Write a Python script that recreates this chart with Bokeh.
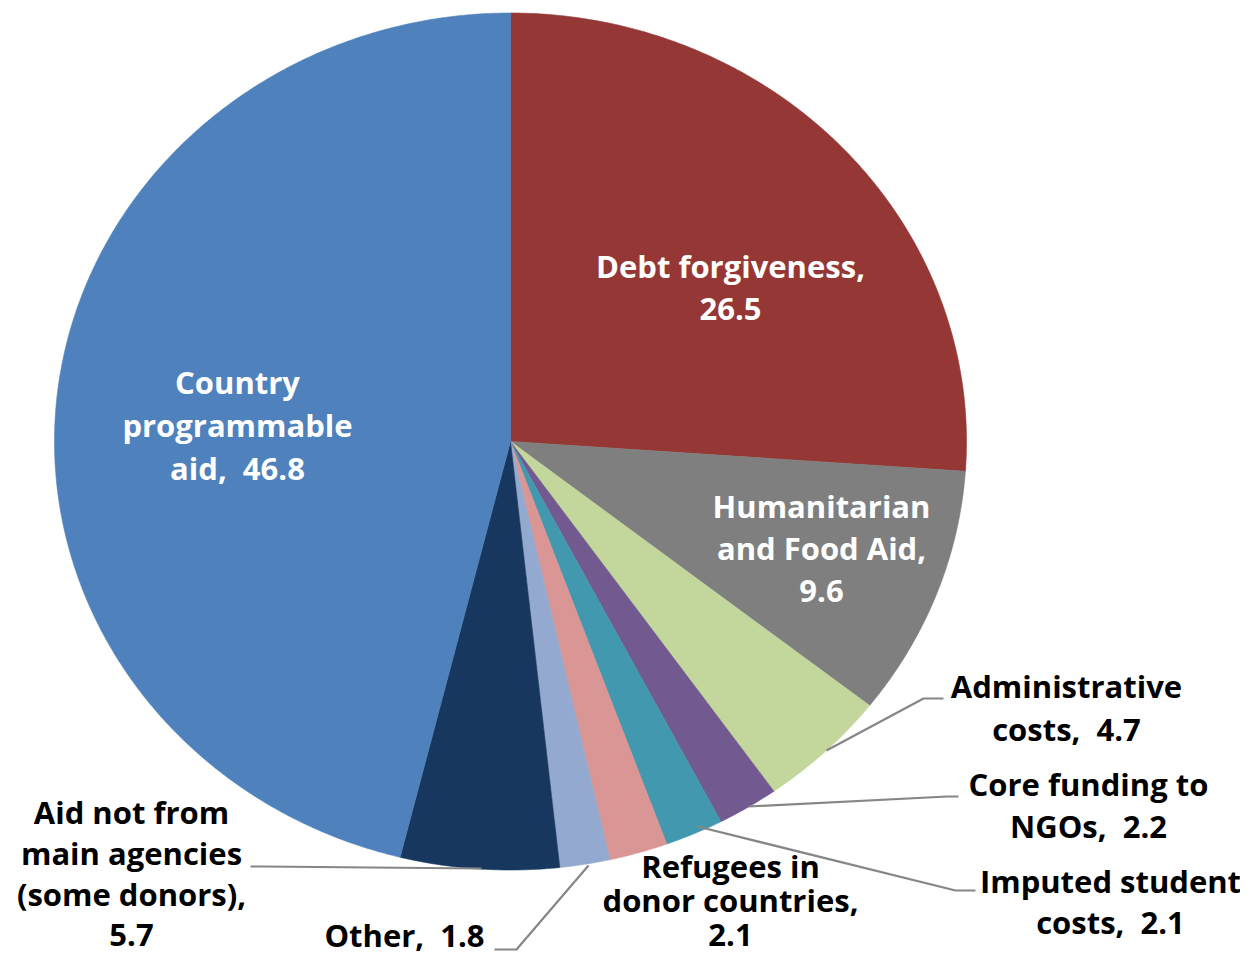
import numpy as np
from bokeh.plotting import figure
from bokeh.models import Range1d, ColumnDataSource
from bokeh.embed import file_html
from bokeh.resources import INLINE
from bokeh.core.properties import value

# ---- data ----
categories = ["Debt forgiveness", "Humanitarian and Food Aid", "Administrative costs",
              "Core funding to NGOs", "Imputed student costs", "Refugees in donor countries",
              "Other", "Aid not from main agencies (some donors)", "Country programmable aid"]
values = [26.5, 9.6, 4.7, 2.2, 2.1, 2.1, 1.8, 5.7, 46.8]
colors = ["#953735", "#7F7F7F", "#C3D69B", "#72598F", "#4298AF", "#D99694",
          "#94A9CF", "#18375E", "#4F81BD"]
NB = "\u00a0"
label_lines = [
    ["Debt forgiveness,", "26.5"],
    ["Humanitarian", "and Food Aid,", "9.6"],
    ["Administrative", "costs," + NB + " 4.7"],
    ["Core funding to", "NGOs," + NB + " 2.2"],
    ["Imputed student", "costs," + NB + " 2.1"],
    ["Refugees in", "donor countries,", "2.1"],
    ["Other," + NB + " 1.8"],
    ["Aid not from", "main agencies", "(some donors),", "5.7"],
    ["Country", "programmable", "aid," + NB + " 46.8"],
]
label_colors = ["white", "white", "black", "black", "black", "black", "black", "black", "white"]

# ---- layout (pixel coordinates) ----
W, H = 1240, 956
cx, cy, rx, ry = 510, 441, 456, 428.5
# (centre x, baseline of first line)
label_pos = [(730, 277), (821, 517), (1066, 697), (1088, 795), (1110, 892),
             (730, 877), (404, 946), (131, 823), (237, 393)]
line_gaps = [43, 42.5, 43, 42, 41, 34.5, 40, 41, 43]
baseline_shift = 12
leaders = [
    [(826, 750), (923, 698), (943, 698)],
    [(748, 806), (947, 796), (958, 796)],
    [(697, 826), (955, 890), (975, 890)],
    [(588, 865), (516, 949), (494, 949)],
    [(481, 868), (262, 866), (250, 866)],
]

p = figure(width=W, height=H, output_backend="svg", toolbar_location=None,
           x_range=Range1d(0, W), y_range=Range1d(H, 0),
           min_border=0, x_axis_location=None, y_axis_location=None,
           background_fill_color="white", border_fill_color="white")
p.outline_line_color = None
p.grid.visible = False

total = sum(values)
fr = np.cumsum([0] + values) / total
xs, ys = [], []
for i in range(len(values)):
    a0, a1 = 2 * np.pi * fr[i], 2 * np.pi * fr[i + 1]
    n = max(8, int((a1 - a0) / (2 * np.pi) * 720))
    t = np.linspace(a0, a1, n)
    xs.append(list(np.concatenate([[cx], cx + rx * np.sin(t)])))
    ys.append(list(np.concatenate([[cy], cy - ry * np.cos(t)])))
src = ColumnDataSource(dict(xs=xs, ys=ys, color=colors, name=categories))
p.patches("xs", "ys", source=src, fill_color="color", line_color="color", line_width=0.6)

for pts in leaders:
    p.line([q[0] for q in pts], [q[1] for q in pts], line_color="#868686", line_width=2.2)

tx, ty, tt, tc = [], [], [], []
for lines, (x0, y0), c, g in zip(label_lines, label_pos, label_colors, line_gaps):
    for k, s in enumerate(lines):
        tx.append(x0)
        ty.append(y0 + k * g - baseline_shift)
        tt.append(s)
        tc.append(c)
p.text(x=tx, y=ty, text=tt, text_color=tc, text_font=value("Open Sans"),
       text_font_style="bold", text_font_size="31px", text_align="center",
       text_baseline="alphabetic")

open("out.html", "w").write(file_html(p, INLINE))
